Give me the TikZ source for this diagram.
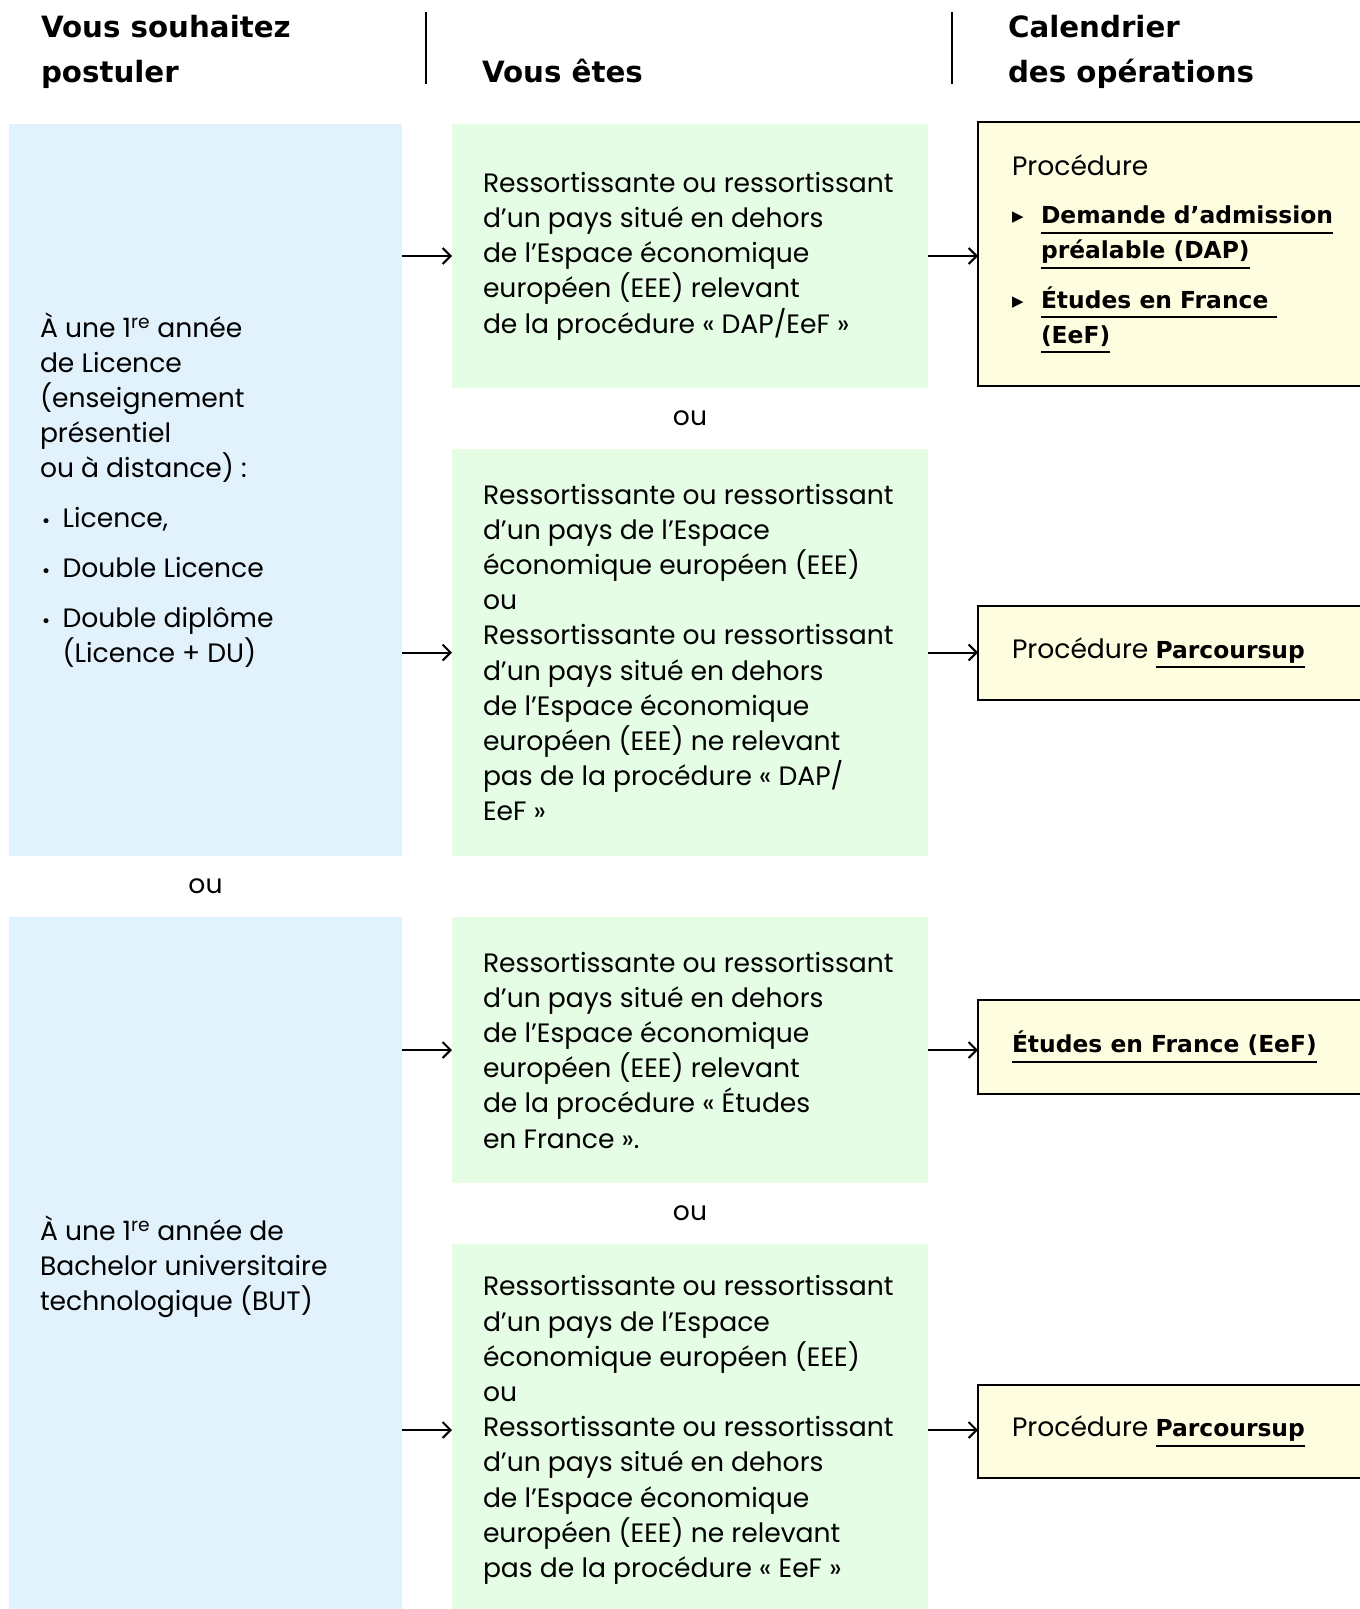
\documentclass[tikz,border=0pt]{standalone}
\usepackage{fontspec}
\setmainfont{Poppins}
\newfontfamily\hfont{DejaVu Sans}
\newfontfamily\dvsym{DejaVu Sans}
\usetikzlibrary{arrows.meta,calc}
\definecolor{bluefill}{HTML}{E1F2FD}
\definecolor{greenfill}{HTML}{E5FCE5}
\definecolor{yellowfill}{HTML}{FEFDE0}
\newcommand\ulx[1]{\setbox0\hbox{#1}\rlap{\rule[-10pt]{\wd0}{2pt}}\box0}
\newcommand\tri{\makebox[29pt][l]{\raisebox{2pt}{\fontsize{15}{15}\dvsym ▶}}}
\newcommand\bul{\makebox[22.6pt][l]{\hspace{1pt}{\fontsize{17}{17}\dvsym •}}}
\newcommand\bsty{\hfont\bfseries\fontsize{23.4}{35.2}\selectfont}
\begin{document}
\begin{tikzpicture}[x=1pt,y=-1pt,
  bluebox/.style={fill=bluefill,draw=none,inner sep=0,outer sep=0,anchor=north west,minimum width=393pt},
  greenbox/.style={fill=greenfill,draw=none,inner sep=0,outer sep=0,anchor=north west,minimum width=476pt},
  yellowbox/.style={fill=yellowfill,draw=black,line width=2.5pt,inner sep=0,outer sep=0,anchor=north west,minimum width=420pt},
  txt/.style={inner sep=0,outer sep=0,align=left,anchor=west,font=\fontsize{26.6}{35.2}\selectfont},
  head/.style={inner sep=0,outer sep=0,anchor=base west,font=\hfont\bfseries\fontsize{29.3}{29.3}\selectfont},
  ortxt/.style={inner sep=0,outer sep=0,font=\fontsize{26.6}{35.2}\selectfont},
  sep/.style={line width=2pt},
  arr/.style={line width=2pt,-{Straight Barb[length=8pt,width=16pt]}}]
\clip (0,0) rectangle (1360,1609);
\fill[white] (0,0) rectangle (1360,1609);

% headings
\node[head] (h1a) at (41,37) {Vous souhaitez};
\node[head] (h1b) at (41,82) {postuler};
\node[head] (h2) at (482,82) {Vous êtes};
\node[head] (h3a) at (1008,37) {Calendrier};
\node[head] (h3b) at (1008,82) {des opérations};
\coordinate (s1t) at (426,12);
\coordinate (s1b) at (426,84);
\coordinate (s2t) at (952,12);
\coordinate (s2b) at (952,84);
\draw[sep] (s1t) -- (s1b);
\draw[sep] (s2t) -- (s2b);

% boxes
\node[bluebox,minimum height=732pt] (b1) at (9,124) {};
\node[bluebox,minimum height=699pt] (b2) at (9,917) {};
\node[greenbox,minimum height=264pt] (g1) at (452,124) {};
\node[greenbox,minimum height=407pt] (g2) at (452,449) {};
\node[greenbox,minimum height=266pt] (g3) at (452,917) {};
\node[greenbox,minimum height=372pt] (g4) at (452,1244) {};
\node[yellowbox,minimum height=264pt] (y1) at (978,122) {};
\node[yellowbox,minimum height=94pt] (y2) at (978,606) {};
\node[yellowbox,minimum height=94pt] (y3) at (978,1000) {};
\node[yellowbox,minimum height=93pt] (y4) at (978,1385) {};

% blue texts
\node[txt] (b1t) at ($(b1.west)+(31,0)$) {À une 1\textsuperscript{re} année\\
de Licence\\
(enseignement\\
présentiel\\
ou à distance) :\\[14.6pt]
\bul Licence,\\[14.6pt]
\bul Double Licence\\[14.6pt]
\bul Double diplôme\\
\hspace*{22.6pt}(Licence + DU)};
\node[txt] (b2t) at ($(b2.west)+(31,0)$) {À une 1\textsuperscript{re} année de\\
Bachelor universitaire\\
technologique (BUT)};

% green texts
\node[txt] (g1t) at ($(g1.west)+(31,0)$) {Ressortissante ou ressortissant\\
d’un pays situé en dehors\\
de l’Espace économique\\
européen (EEE) relevant\\
de la procédure «~DAP/EeF~»};
\node[txt] (g2t) at ($(g2.west)+(31,0)$) {Ressortissante ou ressortissant\\
d’un pays de l’Espace\\
économique européen (EEE)\\
ou\\
Ressortissante ou ressortissant\\
d’un pays situé en dehors\\
de l’Espace économique\\
européen (EEE) ne relevant\\
pas de la procédure «~DAP/\\
EeF~»};
\node[txt] (g3t) at ($(g3.west)+(31,0)$) {Ressortissante ou ressortissant\\
d’un pays situé en dehors\\
de l’Espace économique\\
européen (EEE) relevant\\
de la procédure «~Études\\
en France~».};
\node[txt] (g4t) at ($(g4.west)+(31,0)$) {Ressortissante ou ressortissant\\
d’un pays de l’Espace\\
économique européen (EEE)\\
ou\\
Ressortissante ou ressortissant\\
d’un pays situé en dehors\\
de l’Espace économique\\
européen (EEE) ne relevant\\
pas de la procédure «~EeF~»};

% yellow texts
\node[txt] (y1t) at ($(y1.west)+(34,0)$) {Procédure\\[13pt]
\tri{\bsty\ulx{Demande d’admission}}\\
\hspace*{29pt}{\bsty\ulx{préalable (DAP)}}\\[14pt]
\tri{\bsty\ulx{Études en France\ }}\\
\hspace*{29pt}{\bsty\ulx{(EeF)}}};
\node[txt] (y2t) at ($(y2.west)+(34,0)$) {Procédure {\bsty\ulx{Parcoursup}}};
\node[txt] (y3t) at ($(y3.west)+(34,0)$) {{\bsty\ulx{Études en France (EeF)}}};
\node[txt] (y4t) at ($(y4.west)+(34,0)$) {Procédure {\bsty\ulx{Parcoursup}}};

% "ou" labels
\node[ortxt] (ou1) at ($(g1.south)!0.5!(g2.north)$) {ou};
\node[ortxt] (ou2) at ($(b1.south)!0.5!(b2.north)$) {ou};
\node[ortxt] (ou3) at ($(g3.south)!0.5!(g4.north)$) {ou};

% connectors
\draw[arr] (b1.east |- g1.west) -- (g1.west);
\draw[arr] (b1.east |- g2.west) -- (g2.west);
\draw[arr] (b2.east |- g3.west) -- (g3.west);
\draw[arr] (b2.east |- g4.west) -- (g4.west);
\draw[arr] (g1.east) -- (g1.east -| y1.west);
\draw[arr] (g2.east) -- (g2.east -| y2.west);
\draw[arr] (g3.east) -- (g3.east -| y3.west);
\draw[arr] (g4.east) -- (g4.east -| y4.west);
\end{tikzpicture}
\end{document}
